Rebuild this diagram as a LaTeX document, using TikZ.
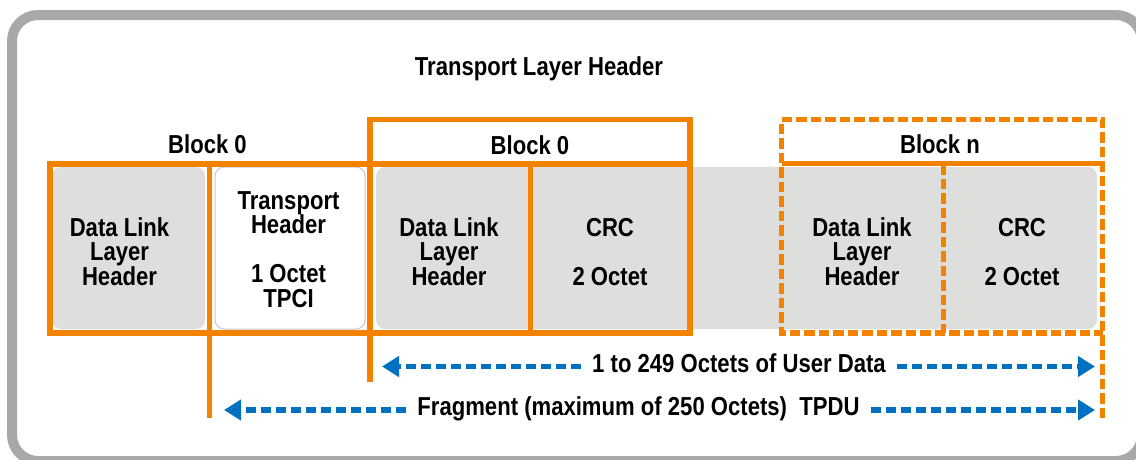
\documentclass[tikz,border=0pt]{standalone}
\usepackage{fontspec}
\newfontfamily\narrowbf{Liberation Sans Bold}[FakeStretch=0.85]
\usetikzlibrary{arrows.meta}
\definecolor{orangeC}{HTML}{F38200}
\definecolor{blueC}{HTML}{0070C0}
\definecolor{frameC}{HTML}{A8A8A6}
\definecolor{cellC}{HTML}{DEDEDC}
\definecolor{cellLine}{HTML}{C8C8C8}
\begin{document}
\begin{tikzpicture}[x=1pt,y=-1pt,
  lbl/.style={font={\narrowbf\fontsize{26}{24.5}\selectfont}, align=center, inner sep=0pt, anchor=base},
  ora/.style={draw=orangeC, line width=5.5pt, line cap=rect},
  oradash/.style={draw=orangeC, line width=5.5pt, dash pattern=on 10.5pt off 4pt},
  bluarrow/.style={draw=blueC, line width=5.5pt, dash pattern=on 10pt off 5pt, -{Triangle[length=17pt,width=20pt]}},
  cellbox/.style={fill=cellC, rounded corners=9pt}]
\useasboundingbox (0,0) rectangle (1136,459);
% outer frame
\draw[line width=10pt, draw=frameC, rounded corners=26pt] (12,15) rectangle (1142,461);
% cells
\fill[cellbox] (52,167) rectangle (205,329);
\draw[draw=cellLine, fill=white, line width=1pt, rounded corners=9pt] (215,167) rectangle (365,329);
\fill[cellbox] (376,167) rectangle (1097,329);
% orange block outlines
\draw[ora] (690,164) -- (50,164) -- (50,333) -- (690,333);
\draw[ora] (370,379) -- (370,119.5) -- (690,119.5) -- (690,333);
\draw[ora] (209.5,164) -- (209.5,415.5);
\draw[ora] (530.5,164) -- (530.5,333);
\draw[oradash] (1102.5,418) -- (1102.5,119.5) -- (781.5,119.5) -- (781.5,333) -- (1102.5,333);
\draw[oradash] (943.5,164) -- (943.5,333);
\draw[ora, line cap=butt] (781.5,163.5) -- (1105,163.5);
% texts (base anchor = baseline of the last line)
\node[lbl] (title) at (539,75) {Transport Layer Header};
\node[lbl] (b0l) at (207.5,153) {Block 0};
\node[lbl] (b0m) at (530,154) {Block 0};
\node[lbl] (bn) at (940,153) {Block n};
\node[lbl] (dll0) at (119.5,285) {Data Link\\Layer\\Header};
\node[lbl] (tph) at (288.5,307) {Transport\\Header\\[24.5pt]1 Octet\\TPCI};
\node[lbl] (dll1) at (449,285) {Data Link\\Layer\\Header};
\node[lbl] (crc1) at (610,285) {CRC\\[24.5pt]2 Octet};
\node[lbl] (dlln) at (862,285) {Data Link\\Layer\\Header};
\node[lbl] (crcn) at (1022,285) {CRC\\[24.5pt]2 Octet};
% arrows
\node[lbl, inner xsep=11pt] (ud) at (739,372) {1 to 249 Octets of User Data};
\node[lbl, inner xsep=11pt] (fr) at (638.5,415) {Fragment (maximum of 250 Octets)\ \ TPDU};
\coordinate (u1) at (382,366.5);
\coordinate (u2) at (1095,366.5);
\coordinate (f1) at (224,410);
\coordinate (f2) at (1095,410);
\draw[bluarrow] (ud.west |- u1) -- (u1);
\draw[bluarrow] (ud.east |- u2) -- (u2);
\draw[bluarrow] (fr.west |- f1) -- (f1);
\draw[bluarrow] (fr.east |- f2) -- (f2);
\end{tikzpicture}
\end{document}
